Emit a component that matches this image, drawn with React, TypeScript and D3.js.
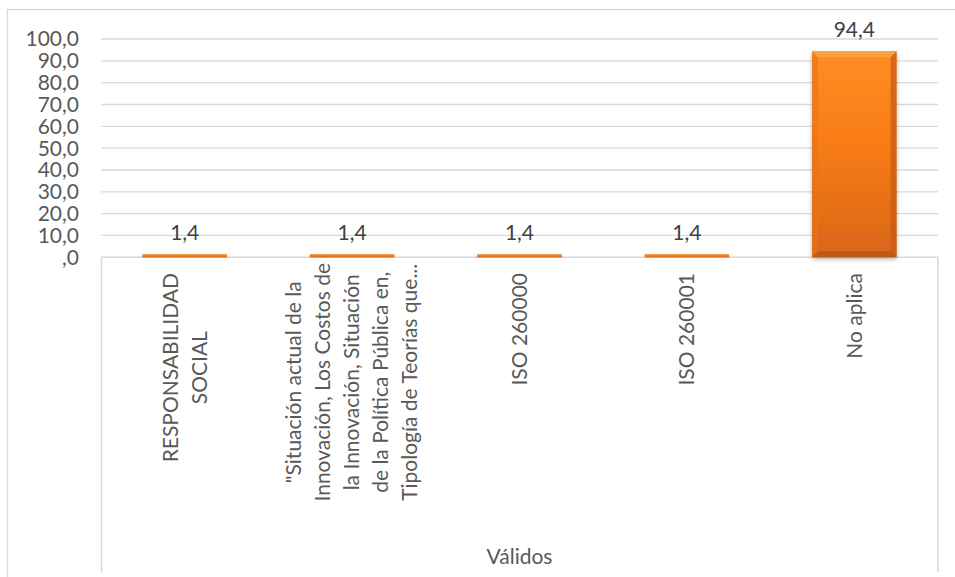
import React, { useEffect, useRef } from "react";
import * as d3 from "d3";

const categories = ["RESPONSABILIDAD SOCIAL", "Situación", "ISO 260000", "ISO 260001", "No aplica"];
const categoryLines: string[][] = [
  ["RESPONSABILIDAD", "SOCIAL"],
  [
    "\"Situación actual de la",
    "Innovación, Los Costos de",
    "la Innovación, Situación",
    "de la Política Pública en,",
    "Tipología de Teorías que...",
  ],
  ["ISO 260000"],
  ["ISO 260001"],
  ["No aplica"],
];
const values = [1.4, 1.4, 1.4, 1.4, 94.4];
const yTicks = [0, 10, 20, 30, 40, 50, 60, 70, 80, 90, 100];
const groupLabel = "Válidos";

const W = 955;
const H = 577;
const FONT = "Lato, 'Open Sans', sans-serif";

export default function App() {
  const ref = useRef<SVGSVGElement | null>(null);

  useEffect(() => {
    document.body.style.margin = "0";
    const svg = d3.select(ref.current);
    svg.selectAll("*").remove();

    const left = 101;
    const right = 938;
    const top = 39;
    const bottom = 257.3;

    const x = d3.scaleBand<string>().domain(categories).range([left, right]).paddingInner(0.495).paddingOuter(0.2475);
    const y = d3.scaleLinear().domain([0, 100]).range([bottom, top]);

    const defs = svg.append("defs");
    const grad = defs.append("linearGradient").attr("id", "barGrad").attr("x1", 0).attr("y1", 0).attr("x2", 0).attr("y2", 1);
    grad.append("stop").attr("offset", "0%").attr("stop-color", "#ff8d24");
    grad.append("stop").attr("offset", "45%").attr("stop-color", "#f87c16");
    grad.append("stop").attr("offset", "100%").attr("stop-color", "#d8661a");
    const f = defs.append("filter").attr("id", "shadow").attr("x", "-20%").attr("y", "-20%").attr("width", "140%").attr("height", "140%");
    f.append("feDropShadow").attr("dx", 0).attr("dy", 2).attr("stdDeviation", 2).attr("flood-color", "#000").attr("flood-opacity", 0.3);

    // outer chart border
    svg.append("rect").attr("x", 7.5).attr("y", 9.5).attr("width", 980).attr("height", 620)
      .attr("fill", "#fff").attr("stroke", "#d9d9d9").attr("stroke-width", 1.3);

    // gridlines
    svg.append("g").selectAll("line").data(yTicks.filter((t) => t > 0)).join("line")
      .attr("x1", left).attr("x2", right)
      .attr("y1", (d) => y(d)).attr("y2", (d) => y(d))
      .attr("stroke", "#d9d9d9").attr("stroke-width", 1.3);

    // y tick labels
    const fmt = (v: number) => (v === 0 ? ",0" : v.toFixed(1).replace(".", ","));
    svg.append("g").selectAll("text").data(yTicks).join("text")
      .attr("x", 79).attr("y", (d) => y(d)).attr("dy", "0.35em")
      .attr("text-anchor", "end").attr("font-family", FONT).attr("font-size", 21)
      .attr("fill", "#595959").text((d) => fmt(d));

    // category axis box
    const axisG = svg.append("g").attr("stroke", "#d9d9d9").attr("stroke-width", 1.5).attr("fill", "none");
    axisG.append("line").attr("x1", left).attr("x2", right).attr("y1", bottom).attr("y2", bottom);
    axisG.append("line").attr("x1", left + 0.5).attr("x2", left + 0.5).attr("y1", bottom).attr("y2", 572);
    axisG.append("line").attr("x1", right).attr("x2", right).attr("y1", bottom).attr("y2", 572);

    // bars
    const bars = svg.append("g").selectAll("g").data(categories).join("g");
    bars.each(function (c, i) {
      const g = d3.select(this);
      const bx = x(c)!;
      const bw = x.bandwidth();
      const by = y(values[i]);
      const bh = y(0) - by;
      g.append("rect").attr("x", bx).attr("y", by).attr("width", bw).attr("height", bh)
        .attr("fill", "url(#barGrad)").attr("filter", "url(#shadow)");
      const bev = Math.min(6, bh / 2);
      if (bh > 12) {
        // top bevel
        g.append("polygon")
          .attr("points", `${bx},${by} ${bx + bw},${by} ${bx + bw - bev},${by + bev} ${bx + bev},${by + bev}`)
          .attr("fill", "#ffa448").attr("opacity", 0.85);
        // left bevel
        g.append("polygon")
          .attr("points", `${bx},${by} ${bx + bev},${by + bev} ${bx + bev},${by + bh - bev} ${bx},${by + bh}`)
          .attr("fill", "#e8731a").attr("opacity", 0.6);
        // right bevel
        g.append("polygon")
          .attr("points", `${bx + bw},${by} ${bx + bw - bev},${by + bev} ${bx + bw - bev},${by + bh - bev} ${bx + bw},${by + bh}`)
          .attr("fill", "#c75a12").attr("opacity", 0.7);
        // bottom bevel
        g.append("polygon")
          .attr("points", `${bx},${by + bh} ${bx + bev},${by + bh - bev} ${bx + bw - bev},${by + bh - bev} ${bx + bw},${by + bh}`)
          .attr("fill", "#b5540f").attr("opacity", 0.75);
      }
      g.append("text").attr("x", bx + bw / 2).attr("y", by - 14)
        .attr("text-anchor", "middle").attr("font-family", FONT).attr("font-size", 21)
        .attr("fill", "#404040").text(values[i].toFixed(1).replace(".", ","));
    });

    // category labels (rotated)
    const lineH = 29;
    const labelTop = 273;
    categories.forEach((c, i) => {
      const cx = x(c)! + x.bandwidth() / 2;
      const lines = categoryLines[i];
      const g = svg.append("g");
      const texts = lines.map((ln, j) =>
        g.append("text")
          .attr("x", 0)
          .attr("y", (j - (lines.length - 1) / 2) * lineH)
          .attr("dy", "0.35em")
          .attr("text-anchor", "middle")
          .attr("font-family", FONT).attr("font-size", 21).attr("fill", "#595959")
          .text(ln)
      );
      const maxW = d3.max(texts, (t) => (t.node() as SVGTextElement).getComputedTextLength()) || 0;
      const top2 = lines.length > 3 ? labelTop - 10 : labelTop;
      g.attr("transform", `translate(${cx},${top2 + maxW / 2}) rotate(-90)`);
    });

    // group label
    svg.append("text").attr("x", (left + right) / 2).attr("y", 557).attr("dy", "0.35em")
      .attr("text-anchor", "middle").attr("font-family", FONT).attr("font-size", 21)
      .attr("fill", "#595959").text(groupLabel);
  }, []);

  return <svg ref={ref} width={W} height={H} style={{ display: "block" }} />;
}
